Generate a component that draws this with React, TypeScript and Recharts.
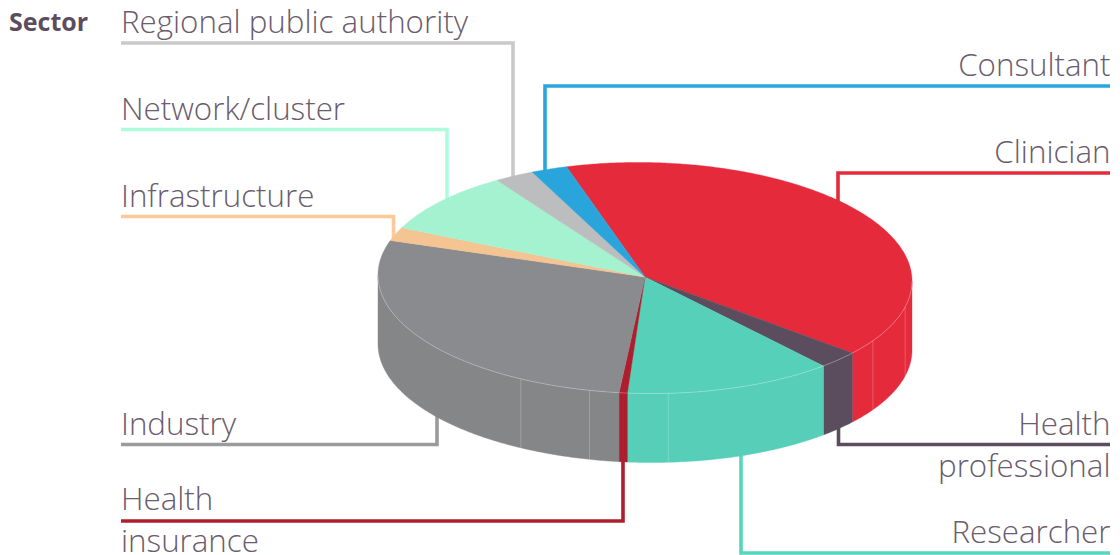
import { PieChart, Pie } from "recharts";

const sectors = ["Clinician", "Health professional", "Researcher", "Health insurance", "Industry", "Infrastructure", "Network/cluster", "Regional public authority", "Consultant"];
const shares = [40.6, 2.5, 12.7, 0.5, 28.3, 1.9, 8.9, 2.4, 2.2];
const topColors = ["#e52a3c", "#5c4d5e", "#56d0b9", "#ad1e2e", "#8a8b8e", "#f4c493", "#a4f2d0", "#bcbdbf", "#29a5dc"];
const wallColors = ["#e52a3c", "#5c4d5e", "#56ceb8", "#ad1e2e", "#858687", "#f4c493", "#a4f2d0", "#bcbdbf", "#29a5dc"];

const data = sectors.map((name, i) => ({ name, value: shares[i], top: topColors[i], wall: wallColors[i] }));

// faint vertical joins on the side wall, in pie degrees
const wallSeams = [-117.7, -102, -85, -31.4, -13];

const SQUASH = 0.4326;
const TILT = 0.0112;
const RIM_SHIFT = 1;
const DEPTH = 69;

function rimPoint(cx: number, cy: number, r: number, deg: number, drop = 0) {
  const a = (deg * Math.PI) / 180;
  const x = cx + r * Math.cos(a);
  const y = cy + RIM_SHIFT - r * SQUASH * Math.sin(a) + r * TILT * Math.cos(a) + drop;
  return `${x.toFixed(2)} ${y.toFixed(2)}`;
}

function rimPath(cx: number, cy: number, r: number, from: number, to: number, drop = 0) {
  const steps = Math.max(2, Math.ceil(Math.abs(to - from) * 2));
  const pts: string[] = [];
  for (let i = 0; i <= steps; i++) {
    pts.push(rimPoint(cx, cy, r, from + ((to - from) * i) / steps, drop));
  }
  return pts;
}

function Slice3D(props: any) {
  const { cx, cy, outerRadius: r, startAngle, endAngle, payload } = props;
  const lo = Math.min(startAngle, endAngle);
  const hi = Math.max(startAngle, endAngle);
  const top = `M${cx} ${cy} L${rimPath(cx, cy, r, lo, hi).join(" L")} Z`;

  // only the front half of the disc shows its side
  const wallLo = Math.max(lo, -180);
  const wallHi = Math.min(hi, 0);
  const hasWall = wallHi > wallLo;
  const upper = hasWall ? rimPath(cx, cy, r, wallLo, wallHi) : [];
  const lower = hasWall ? rimPath(cx, cy, r, wallHi, wallLo, DEPTH) : [];
  const seams = wallSeams.filter((s) => s > wallLo && s < wallHi);

  return (
    <g>
      {hasWall && <path d={`M${upper.join(" L")} L${lower.join(" L")} Z`} fill={payload.wall} stroke={payload.wall} strokeWidth={0.4} />}
      <path d={top} fill={payload.top} stroke={payload.top} strokeWidth={0.4} />
      {hasWall && <path d={`M${upper.join(" L")}`} fill="none" stroke="#fff" strokeOpacity={0.35} strokeWidth={0.8} />}
      {seams.map((s) => (
        <path key={s} d={`M${rimPoint(cx, cy, r, s)} L${rimPoint(cx, cy, r, s, DEPTH)}`} stroke="#fff" strokeOpacity={0.25} strokeWidth={0.9} />
      ))}
    </g>
  );
}

const leaders = [
  { color: "#c9c9ca", d: "M121 43 H513 V190" },
  { color: "#aefcdc", d: "M121 129.5 H447 V200" },
  { color: "#fdc998", d: "M121 216.5 H393.5 V245" },
  { color: "#9b9b9d", d: "M121 444.5 H437 V410" },
  { color: "#b01e2e", d: "M121 521 H623 V450" },
  { color: "#29a6de", d: "M1110 86 H545 V175" },
  { color: "#e52a3c", d: "M1110 173 H838 V215" },
  { color: "#5c4d5e", d: "M1110 444.5 H838.5 V420" },
  { color: "#56d6bd", d: "M1110 553 H741 V450" },
];

const leftLabels = [
  { text: "Regional public authority", y: 33 },
  { text: "Network/cluster", y: 120 },
  { text: "Infrastructure", y: 207 },
  { text: "Industry", y: 435 },
  { text: "Health", y: 510 },
  { text: "insurance", y: 552 },
];

const rightLabels = [
  { text: "Consultant", y: 76 },
  { text: "Clinician", y: 163 },
  { text: "Health", y: 435 },
  { text: "professional", y: 477 },
  { text: "Researcher", y: 543 },
];

const labelFont = { fontFamily: "'Open Sans', sans-serif", fontWeight: 300, fontSize: 31.3, fill: "#6a5c6d" };

export default function App() {
  return (
    <div style={{ position: "absolute", left: 0, top: 0, width: 1120, height: 555, background: "#fff" }}>
      <svg width={1120} height={555} style={{ position: "absolute", left: 0, top: 0 }}>
        {leaders.map((l) => (
          <path key={l.d} d={l.d} fill="none" stroke={l.color} strokeWidth={3.6} />
        ))}
        <text x={9} y={31} style={{ fontFamily: "'Open Sans', sans-serif", fontWeight: 700, fontSize: 25, fill: "#5c4d5e" }}>
          Sector
        </text>
        {leftLabels.map((l) => (
          <text key={l.text} x={121} y={l.y} style={labelFont}>
            {l.text}
          </text>
        ))}
        {rightLabels.map((l) => (
          <text key={l.text} x={1110.5} y={l.y} textAnchor="end" style={labelFont}>
            {l.text}
          </text>
        ))}
      </svg>
      <div style={{ position: "absolute", left: 0, top: 0 }}>
        <PieChart width={1120} height={555} margin={{ top: 0, right: 0, bottom: 0, left: 0 }}>
          <Pie
            data={data}
            dataKey="value"
            nameKey="name"
            cx={645}
            cy={277}
            outerRadius={267}
            startAngle={107.1}
            endAngle={-252.9}
            stroke="none"
            isAnimationActive={false}
            shape={Slice3D}
          />
        </PieChart>
      </div>
    </div>
  );
}
